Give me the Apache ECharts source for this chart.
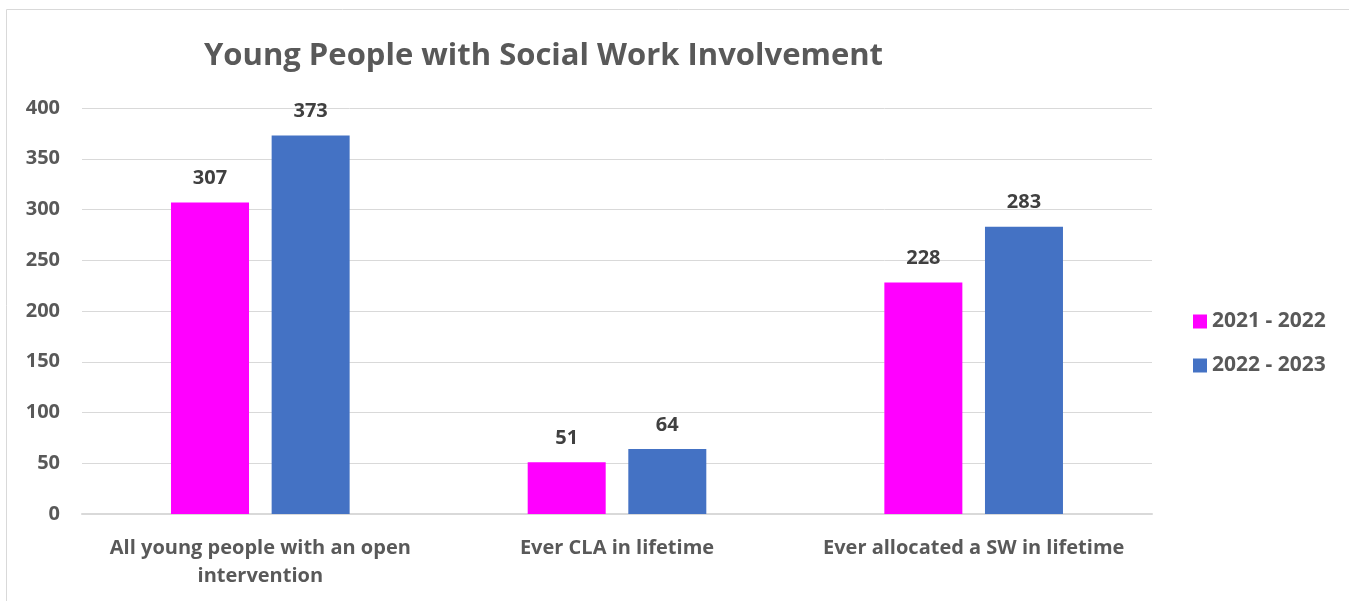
<!DOCTYPE html>
<html><head><meta charset="utf-8">
<script src="https://cdn.jsdelivr.net/npm/echarts@6/dist/echarts.min.js"></script>
<style>html,body{margin:0;padding:0;background:#fff}#c{width:1349px;height:601px}</style>
</head><body><div id="c"></div>
<script>
const categories = ['All young people with an open\nintervention', 'Ever CLA in lifetime', 'Ever allocated a SW in lifetime'];
const series2122 = [307, 51, 228];
const series2223 = [373, 64, 283];
const seriesNames = ['2021 - 2022', '2022 - 2023'];
const titleText = 'Young People with Social Work Involvement';
const font = '"Open Sans", "Liberation Sans", sans-serif';
const chart = echarts.init(document.getElementById('c'));
const lbl = {show: true, position: 'top', distance: 14, fontFamily: font, fontWeight: 'bold', fontSize: 20, color: '#404040'};
chart.setOption({
  animation: false,
  graphic: [{type: 'rect', shape: {x: 6.5, y: 9.5, width: 1400, height: 700}, style: {fill: 'none', stroke: '#d9d9d9', lineWidth: 1}, silent: true}],
  title: {text: titleText, left: 199, top: 36, textStyle: {fontFamily: font, fontWeight: 'bold', fontSize: 31, color: '#595959'}},
  legend: {orient: 'vertical', left: 1188, top: 306, itemWidth: 14, itemHeight: 14, itemGap: 23, icon: 'rect',
    textStyle: {fontFamily: font, fontWeight: 'bold', fontSize: 21, color: '#595959'}},
  grid: {left: 82, right: 197, top: 108, bottom: 87, containLabel: false},
  xAxis: {type: 'category', data: categories, axisTick: {show: false},
    axisLine: {lineStyle: {color: '#d9d9d9', width: 2}},
    axisLabel: {fontFamily: font, fontWeight: 'bold', fontSize: 20, color: '#595959', margin: 20, lineHeight: 28, interval: 0}},
  yAxis: {type: 'value', min: 0, max: 400, interval: 50,
    axisLabel: {fontFamily: font, fontWeight: 'bold', fontSize: 20, color: '#595959', margin: 22},
    splitLine: {lineStyle: {color: '#d9d9d9', width: 1}}, axisLine: {show: false}, axisTick: {show: false}},
  series: [
    {name: seriesNames[0], type: 'bar', data: series2122, barWidth: 78, barGap: '29%', itemStyle: {color: '#FF00FF'}, label: lbl},
    {name: seriesNames[1], type: 'bar', data: series2223, barWidth: 78, itemStyle: {color: '#4472C4'}, label: lbl}
  ]
});
</script></body></html>
